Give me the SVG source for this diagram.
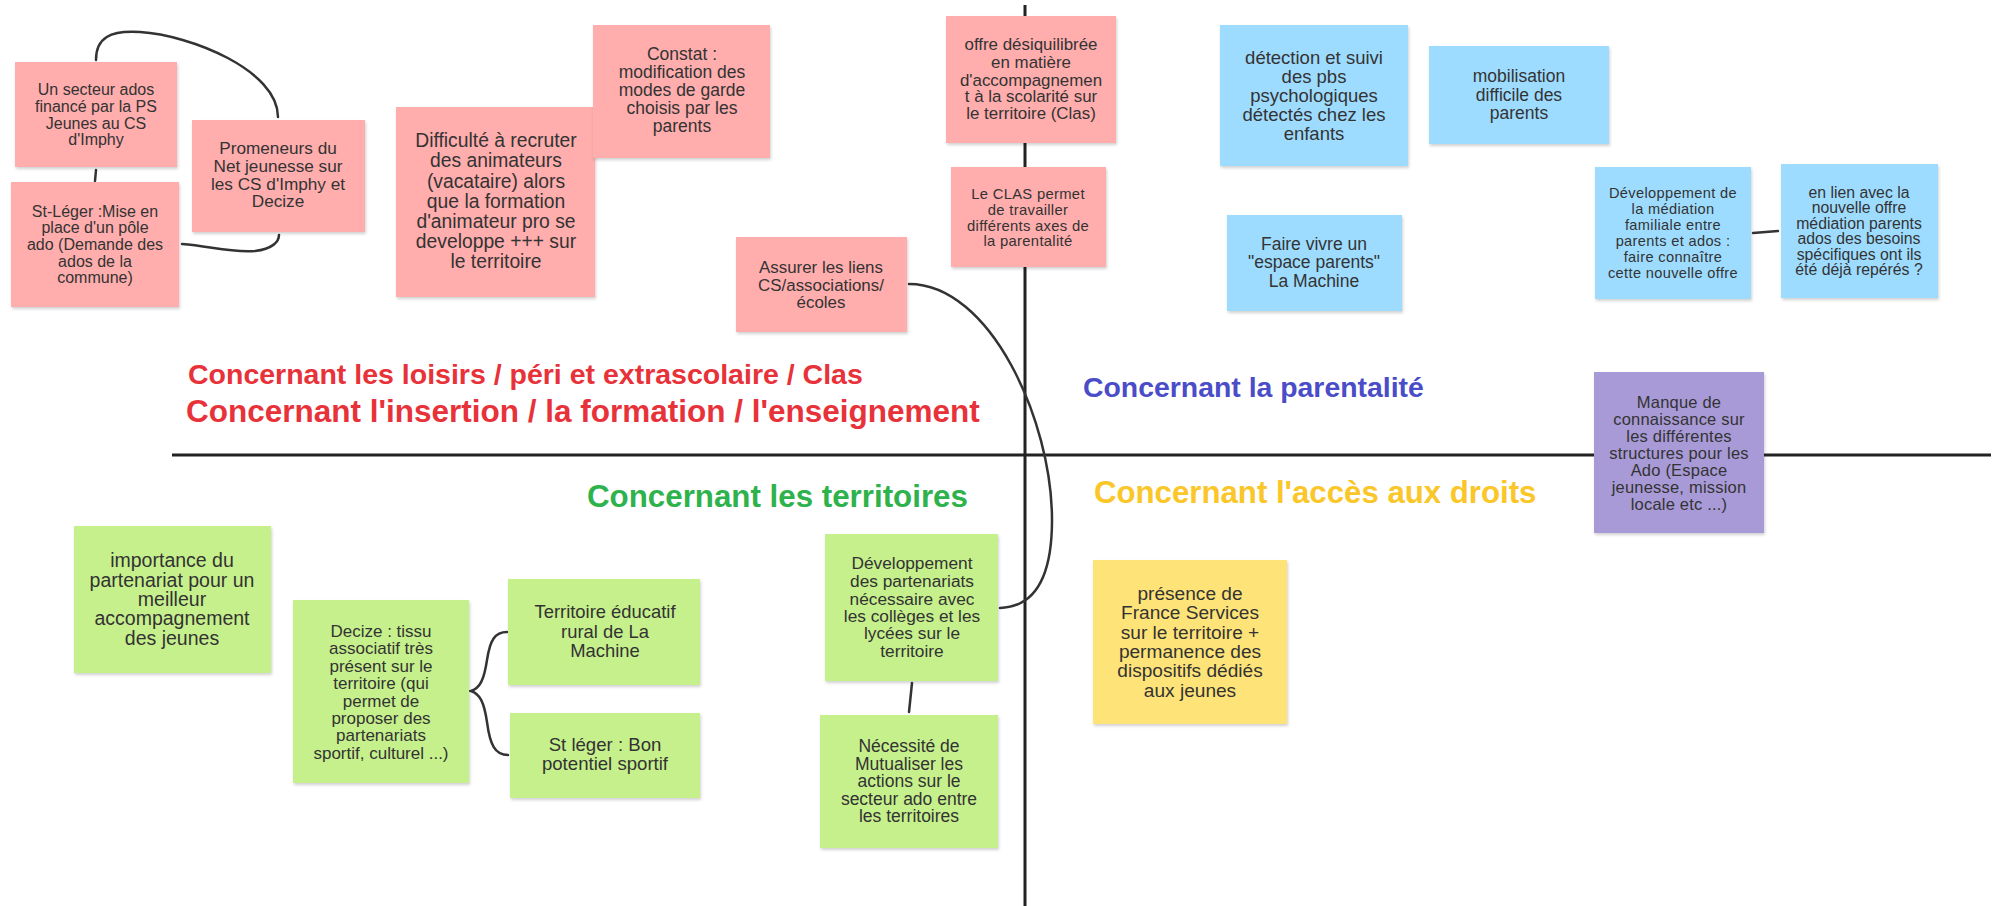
<svg xmlns="http://www.w3.org/2000/svg" width="1995" height="906" viewBox="0 0 1995 906">
<defs>
<filter id="sh" x="-5%" y="-5%" width="115%" height="115%">
<feDropShadow dx="1" dy="2" stdDeviation="1.5" flood-color="#000" flood-opacity="0.18"/>
</filter>
</defs>
<style>
.n rect{filter:url(#sh)}
.pk{fill:#ffadad}
.bl{fill:#9edcff}
.gr{fill:#c6f08c}
.ye{fill:#fee478}
.pu{fill:#a89ad6}
.t{font-family:"Liberation Sans",Arial,sans-serif;fill:#333;text-anchor:middle}
.h{font-family:"Liberation Sans",Arial,sans-serif;font-weight:bold}
.ax{stroke:#222;stroke-width:3;fill:none}
.c{stroke:#333;stroke-width:2.5;fill:none;stroke-linecap:round}
</style>
<rect width="1995" height="906" fill="#fff"/>

<g id="axes">
<line class="ax" x1="1025" y1="5" x2="1025" y2="906"/>
<line class="ax" x1="172" y1="455" x2="1991" y2="455"/>
</g>

<g id="titles">
<text class="h" x="188" y="384" font-size="28.5" fill="#e8323a">Concernant les loisirs / péri et extrascolaire / Clas</text>
<text class="h" x="186" y="422" font-size="31.5" fill="#e8323a">Concernant l'insertion / la formation / l'enseignement</text>
<text class="h" x="1083" y="397" font-size="28.4" fill="#4a4cc8">Concernant la parentalité</text>
<text class="h" x="587" y="507" font-size="31.3" fill="#2db24c">Concernant les territoires</text>
<text class="h" x="1094" y="503" font-size="31.2" fill="#fac628">Concernant l'accès aux droits</text>
</g>

<g id="connectors">
<path class="c" d="M96,60 C96,38 110,30 140,32 C190,35 278,70 278,117"/>
<path class="c" d="M96,170 L95,181"/>
<path class="c" d="M182,244 C210,246 230,253 255,251 C272,249 279,242 279,235"/>
<path class="c" d="M909,284 C990,284 1052,420 1052,520 C1052,585 1030,607 1000,608"/>
<path class="c" d="M912,683 L909,712"/>
<path class="c" d="M507,632 C495,632 490,640 487,660 C484,680 480,688 471,691 C480,694 484,702 487,722 C490,745 495,755 508,755"/>
<path class="c" d="M1753,233 L1778,231"/>
</g>

<g id="n1" class="n"><rect class="pk" x="15" y="62" width="162" height="105"/>
<text class="t" font-size="16"><tspan x="96" y="95">Un secteur ados</tspan><tspan x="96" y="112">financé par la PS</tspan><tspan x="96" y="128.5">Jeunes au CS</tspan><tspan x="96" y="145">d'Imphy</tspan></text></g>

<g id="n2" class="n"><rect class="pk" x="11" y="182" width="168" height="125"/>
<text class="t" font-size="16"><tspan x="95" y="216.5">St-Léger :Mise en</tspan><tspan x="95" y="233">place d'un pôle</tspan><tspan x="95" y="250">ado (Demande des</tspan><tspan x="95" y="266.5">ados de la</tspan><tspan x="95" y="283">commune)</tspan></text></g>

<g id="n3" class="n"><rect class="pk" x="192" y="120" width="173" height="112"/>
<text class="t" font-size="17.2"><tspan x="278" y="154">Promeneurs du</tspan><tspan x="278" y="172">Net jeunesse sur</tspan><tspan x="278" y="190">les CS d'Imphy et</tspan><tspan x="278" y="207">Decize</tspan></text></g>

<g id="n4" class="n"><rect class="pk" x="396" y="107" width="199" height="190"/>
<text class="t" font-size="19.3"><tspan x="496" y="147">Difficulté à recruter</tspan><tspan x="496" y="167">des animateurs</tspan><tspan x="496" y="187.5">(vacataire) alors</tspan><tspan x="496" y="207.5">que la formation</tspan><tspan x="496" y="228">d'animateur pro se</tspan><tspan x="496" y="248">developpe +++ sur</tspan><tspan x="496" y="268">le territoire</tspan></text></g>

<g id="n5" class="n"><rect class="pk" x="593" y="25" width="177" height="133"/>
<text class="t" font-size="17.5"><tspan x="682" y="60">Constat :</tspan><tspan x="682" y="78">modification des</tspan><tspan x="682" y="96">modes de garde</tspan><tspan x="682" y="114">choisis par les</tspan><tspan x="682" y="132">parents</tspan></text></g>

<g id="n6" class="n"><rect class="pk" x="736" y="237" width="171" height="95"/>
<text class="t" font-size="16.9"><tspan x="821" y="273">Assurer les liens</tspan><tspan x="821" y="291">CS/associations/</tspan><tspan x="821" y="308">écoles</tspan></text></g>

<g id="n7" class="n"><rect class="pk" x="946" y="16" width="170" height="127"/>
<text class="t" font-size="16.9"><tspan x="1031" y="50">offre désiquilibrée</tspan><tspan x="1031" y="68">en matière</tspan><tspan x="1031" y="86">d'accompagnemen</tspan><tspan x="1031" y="102">t à la scolarité sur</tspan><tspan x="1031" y="119">le territoire (Clas)</tspan></text></g>

<g id="n8" class="n"><rect class="pk" x="951" y="167" width="155" height="100"/>
<text class="t" font-size="14.8" letter-spacing="0.3"><tspan x="1028" y="199">Le CLAS permet</tspan><tspan x="1028" y="215">de travailler</tspan><tspan x="1028" y="231">différents axes de</tspan><tspan x="1028" y="246">la parentalité</tspan></text></g>

<g id="n9" class="n"><rect class="bl" x="1220" y="25" width="188" height="141"/>
<text class="t" font-size="18.5"><tspan x="1314" y="64">détection et suivi</tspan><tspan x="1314" y="83">des pbs</tspan><tspan x="1314" y="102">psychologiques</tspan><tspan x="1314" y="121">détectés chez les</tspan><tspan x="1314" y="140">enfants</tspan></text></g>

<g id="n10" class="n"><rect class="bl" x="1429" y="46" width="180" height="98"/>
<text class="t" font-size="17.5"><tspan x="1519" y="82">mobilisation</tspan><tspan x="1519" y="101">difficile des</tspan><tspan x="1519" y="119">parents</tspan></text></g>

<g id="n11" class="n"><rect class="bl" x="1227" y="215" width="175" height="96"/>
<text class="t" font-size="17.5"><tspan x="1314" y="250">Faire vivre un</tspan><tspan x="1314" y="268">"espace parents"</tspan><tspan x="1314" y="287">La Machine</tspan></text></g>

<g id="n12" class="n"><rect class="bl" x="1595" y="167" width="156" height="132"/>
<text class="t" font-size="14.6" letter-spacing="0.35"><tspan x="1673" y="198">Développement de</tspan><tspan x="1673" y="214">la médiation</tspan><tspan x="1673" y="230">familiale entre</tspan><tspan x="1673" y="246">parents et ados :</tspan><tspan x="1673" y="262">faire connaître</tspan><tspan x="1673" y="278">cette nouvelle offre</tspan></text></g>

<g id="n13" class="n"><rect class="bl" x="1781" y="164" width="157" height="134"/>
<text class="t" font-size="15.8"><tspan x="1859" y="197.5">en lien avec la</tspan><tspan x="1859" y="213">nouvelle offre</tspan><tspan x="1859" y="229">médiation parents</tspan><tspan x="1859" y="244">ados des besoins</tspan><tspan x="1859" y="259.5">spécifiques ont ils</tspan><tspan x="1859" y="275">été déjà repérés ?</tspan></text></g>

<g id="n14" class="n"><rect class="pu" x="1594" y="372" width="170" height="161"/>
<text class="t" font-size="16.5" letter-spacing="0.2"><tspan x="1679" y="408">Manque de</tspan><tspan x="1679" y="425">connaissance sur</tspan><tspan x="1679" y="442">les différentes</tspan><tspan x="1679" y="459">structures pour les</tspan><tspan x="1679" y="476">Ado (Espace</tspan><tspan x="1679" y="493">jeunesse, mission</tspan><tspan x="1679" y="510">locale etc ...)</tspan></text></g>

<g id="n15" class="n"><rect class="gr" x="74" y="526" width="197" height="147"/>
<text class="t" font-size="19.5"><tspan x="172" y="567">importance du</tspan><tspan x="172" y="587">partenariat pour un</tspan><tspan x="172" y="606">meilleur</tspan><tspan x="172" y="625">accompagnement</tspan><tspan x="172" y="645">des jeunes</tspan></text></g>

<g id="n16" class="n"><rect class="gr" x="293" y="600" width="176" height="183"/>
<text class="t" font-size="17"><tspan x="381" y="637">Decize : tissu</tspan><tspan x="381" y="654">associatif très</tspan><tspan x="381" y="672">présent sur le</tspan><tspan x="381" y="689">territoire (qui</tspan><tspan x="381" y="707">permet de</tspan><tspan x="381" y="724">proposer des</tspan><tspan x="381" y="741">partenariats</tspan><tspan x="381" y="759">sportif, culturel ...)</tspan></text></g>

<g id="n17" class="n"><rect class="gr" x="508" y="579" width="192" height="106"/>
<text class="t" font-size="18.4"><tspan x="605" y="618">Territoire éducatif</tspan><tspan x="605" y="638">rural de La</tspan><tspan x="605" y="657">Machine</tspan></text></g>

<g id="n18" class="n"><rect class="gr" x="510" y="713" width="190" height="85"/>
<text class="t" font-size="18.6"><tspan x="605" y="751">St léger : Bon</tspan><tspan x="605" y="770">potentiel sportif</tspan></text></g>

<g id="n19" class="n"><rect class="gr" x="825" y="534" width="173" height="147"/>
<text class="t" font-size="17.3"><tspan x="912" y="569">Développement</tspan><tspan x="912" y="587">des partenariats</tspan><tspan x="912" y="605">nécessaire avec</tspan><tspan x="912" y="622">les collèges et les</tspan><tspan x="912" y="639">lycées sur le</tspan><tspan x="912" y="657">territoire</tspan></text></g>

<g id="n20" class="n"><rect class="gr" x="820" y="715" width="178" height="133"/>
<text class="t" font-size="17.5"><tspan x="909" y="752">Nécessité de</tspan><tspan x="909" y="769.5">Mutualiser les</tspan><tspan x="909" y="787">actions sur le</tspan><tspan x="909" y="804.5">secteur ado entre</tspan><tspan x="909" y="822">les territoires</tspan></text></g>

<g id="n21" class="n"><rect class="ye" x="1093" y="560" width="194" height="164"/>
<text class="t" font-size="19.1"><tspan x="1190" y="600">présence de</tspan><tspan x="1190" y="619">France Services</tspan><tspan x="1190" y="639">sur le territoire +</tspan><tspan x="1190" y="658">permanence des</tspan><tspan x="1190" y="677">dispositifs dédiés</tspan><tspan x="1190" y="697">aux jeunes</tspan></text></g>
</svg>
